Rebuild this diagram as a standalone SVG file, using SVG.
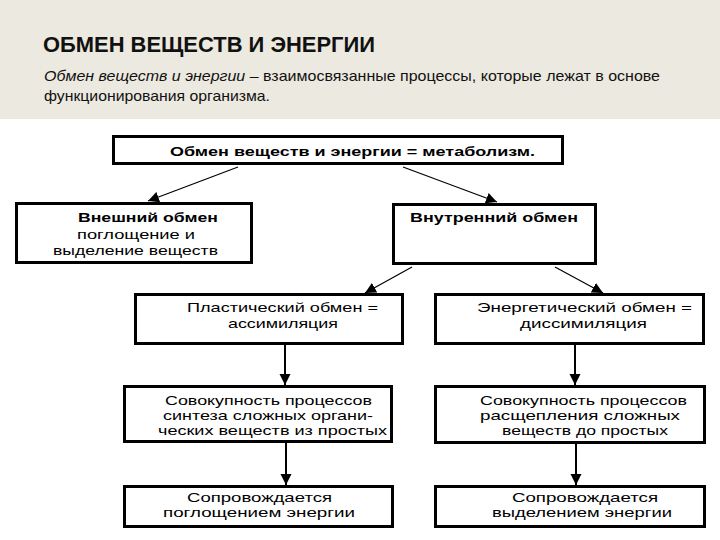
<svg xmlns="http://www.w3.org/2000/svg" width="720" height="540" viewBox="0 0 720 540">
<style>
.box{fill:#fff;stroke:#000;stroke-width:3}
.t{font-family:"Liberation Sans",Arial,sans-serif;font-size:13px;fill:#000}
.b{font-weight:bold}
.con{stroke:#000;fill:none}
.thin{stroke-width:1.2}
.thick{stroke-width:2}
.hdr{font-family:"Liberation Sans",Arial,sans-serif;fill:#111}
</style>
<defs>
<marker id="ah" viewBox="0 0 10 10" refX="10" refY="5" markerUnits="userSpaceOnUse" markerWidth="11" markerHeight="12" orient="auto">
<path d="M0,0 L10,5 L0,10 z" fill="#000"/>
</marker>
</defs>
<rect width="720" height="540" fill="#fff"/>
<g id="header">
<rect x="0" y="0" width="720" height="119" fill="#ECE9E0"/>
<text class="hdr" x="43" y="52" font-size="22" font-weight="bold" textLength="332" lengthAdjust="spacingAndGlyphs">ОБМЕН ВЕЩЕСТВ И ЭНЕРГИИ</text>
<text class="hdr" x="44" y="81" font-size="15" textLength="616" lengthAdjust="spacingAndGlyphs"><tspan font-style="italic">Обмен веществ и энергии</tspan> – взаимосвязанные процессы, которые лежат в основе</text>
<text class="hdr" x="44" y="101" font-size="15" textLength="226" lengthAdjust="spacingAndGlyphs">функционирования организма.</text>
</g>
<g id="metabolism">
<rect class="box" x="113.5" y="136.5" width="449" height="27"/>
<text class="t b" x="170" y="156" textLength="365" lengthAdjust="spacingAndGlyphs">Обмен веществ и энергии = метаболизм.</text>
</g>
<g id="external">
<rect class="box" x="16.5" y="203.5" width="235" height="59"/>
<text class="t b" x="78" y="222" textLength="140" lengthAdjust="spacingAndGlyphs">Внешний обмен</text>
<text class="t" x="77" y="239" textLength="118" lengthAdjust="spacingAndGlyphs">поглощение и</text>
<text class="t" x="53" y="255" textLength="165" lengthAdjust="spacingAndGlyphs">выделение веществ</text>
</g>
<g id="internal">
<rect class="box" x="393.5" y="204.5" width="202" height="59"/>
<text class="t b" x="410" y="222" textLength="168" lengthAdjust="spacingAndGlyphs">Внутренний обмен</text>
</g>
<g id="plastic">
<rect class="box" x="135.5" y="294.5" width="267" height="49"/>
<text class="t" x="187" y="312" textLength="191" lengthAdjust="spacingAndGlyphs">Пластический обмен =</text>
<text class="t" x="228" y="328" textLength="110" lengthAdjust="spacingAndGlyphs">ассимиляция</text>
</g>
<g id="energetic">
<rect class="box" x="435.5" y="294.5" width="268" height="49"/>
<text class="t" x="477" y="312" textLength="215" lengthAdjust="spacingAndGlyphs">Энергетический  обмен =</text>
<text class="t" x="520" y="328" textLength="127" lengthAdjust="spacingAndGlyphs">диссимиляция</text>
</g>
<g id="synthesis">
<rect class="box" x="124.5" y="386.5" width="267" height="55"/>
<text class="t" x="165" y="405" textLength="207" lengthAdjust="spacingAndGlyphs">Совокупность процессов</text>
<text class="t" x="163" y="420" textLength="210" lengthAdjust="spacingAndGlyphs">синтеза сложных органи-</text>
<text class="t" x="158" y="435" textLength="229" lengthAdjust="spacingAndGlyphs">ческих веществ из простых</text>
</g>
<g id="splitting">
<rect class="box" x="435.5" y="386.5" width="269" height="56"/>
<text class="t" x="480" y="405" textLength="207" lengthAdjust="spacingAndGlyphs">Совокупность процессов</text>
<text class="t" x="480" y="420" textLength="200" lengthAdjust="spacingAndGlyphs">расщепления сложных</text>
<text class="t" x="502" y="435" textLength="166" lengthAdjust="spacingAndGlyphs">веществ до простых</text>
</g>
<g id="absorption">
<rect class="box" x="124.5" y="486.5" width="268" height="40"/>
<text class="t" x="187" y="502" textLength="145" lengthAdjust="spacingAndGlyphs">Сопровождается</text>
<text class="t" x="163" y="517" textLength="192" lengthAdjust="spacingAndGlyphs">поглощением  энергии</text>
</g>
<g id="release">
<rect class="box" x="435.5" y="486.5" width="269" height="40"/>
<text class="t" x="512" y="502" textLength="146" lengthAdjust="spacingAndGlyphs">Сопровождается</text>
<text class="t" x="492" y="517" textLength="180" lengthAdjust="spacingAndGlyphs">выделением  энергии</text>
</g>
<g id="connectors">
<line class="con thin" x1="238" y1="167" x2="148" y2="201" marker-end="url(#ah)"/>
<line class="con thin" x1="403" y1="167" x2="497" y2="202" marker-end="url(#ah)"/>
<line class="con thin" x1="412" y1="267" x2="365" y2="293" marker-end="url(#ah)"/>
<line class="con thin" x1="555" y1="267" x2="603" y2="293" marker-end="url(#ah)"/>
<line class="con thick" x1="285" y1="345" x2="285" y2="385" marker-end="url(#ah)"/>
<line class="con thick" x1="575" y1="345" x2="575" y2="385" marker-end="url(#ah)"/>
<line class="con thick" x1="286" y1="443" x2="286" y2="485" marker-end="url(#ah)"/>
<line class="con thick" x1="576" y1="444" x2="576" y2="485" marker-end="url(#ah)"/>
</g>
</svg>
